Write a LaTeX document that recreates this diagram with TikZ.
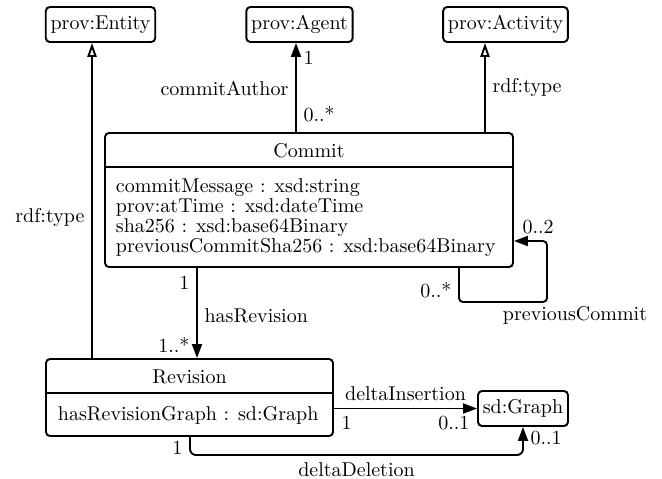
\documentclass[tikz,border=0pt]{standalone}
\usetikzlibrary{arrows.meta}
\begin{document}
\begin{tikzpicture}[x=0.5pt,y=-0.5pt,
  every path/.style={line width=0.95pt},
  simplecls/.style={draw, rounded corners=2pt, line width=0.95pt, inner xsep=2.4pt, inner ysep=0pt, minimum height=17.5pt},
  umlbox/.style={draw, rounded corners=2pt, line width=0.95pt, inner sep=0pt},
  assoc/.style={-{Triangle[length=7pt,width=5pt]}},
  gen/.style={-{Triangle[open,length=7pt,width=4.6pt]}},
  lbl/.style={inner sep=3.33pt}]
\useasboundingbox (0,0) rectangle (662,478);

% simple classes
\node[simplecls] (entity)   at (100.5,24.5) {prov:Entity};
\node[simplecls] (agent)    at (299.5,24.5) {prov:Agent};
\node[simplecls] (activity) at (505.5,24.5) {prov:Activity};
\node[simplecls] (graph)    at (523,408.5)  {sd:Graph};

% Commit class
\node[umlbox, minimum width=204pt, minimum height=67pt] (commit) at (309,200) {};
\coordinate (sepc) at (0,167);
\draw (commit.west |- sepc) -- (commit.east |- sepc);
\node[anchor=base] (commitname) at (309,157) {Commit};
\node[anchor=base west, inner sep=0pt] (cattr1) at (115,192) {commitMessage : xsd:string};
\node[anchor=base west, inner sep=0pt] (cattr2) at (115,212) {prov:atTime : xsd:dateTime};
\node[anchor=base west, inner sep=0pt] (cattr3) at (115,232) {sha256 : xsd:base64Binary};
\node[anchor=base west, inner sep=0pt] (cattr4) at (115,252) {previousCommitSha256 : xsd:base64Binary};

% Revision class
\node[umlbox, minimum width=143.5pt, minimum height=38.5pt] (revision) at (189.5,397.5) {};
\coordinate (sepr) at (0,393);
\draw (revision.west |- sepr) -- (revision.east |- sepr);
\node[anchor=base] (revisionname) at (189.5,383) {Revision};
\node[anchor=base west, inner sep=0pt] (rattr1) at (57,420) {hasRevisionGraph : sd:Graph};

% column coordinates
\coordinate (eX) at (92,0);
\coordinate (aX) at (296,0);
\coordinate (actX) at (485,0);
\coordinate (hrX) at (197,0);
\coordinate (pcX) at (459,0);
\coordinate (pcR) at (547,0);
\coordinate (pcB) at (0,302);
\coordinate (pcT) at (0,241);
\coordinate (ddX) at (190,0);
\coordinate (ddY) at (0,455);

% rdf:type -> prov:Entity
\draw[gen] (revision.north -| eX) -- node[lbl, left, pos=0.445] (lblent) {rdf:type} (entity.south -| eX);

% commitAuthor
\draw[assoc] (commit.north -| aX) --
  node[lbl, left, pos=0.495] (lblauth) {commitAuthor}
  node[lbl, right, pos=0.2] (mauth0) {0..*}
  node[lbl, right, pos=0.835] (mauth1) {1}
  (agent.south -| aX);

% rdf:type -> prov:Activity
\draw[gen] (commit.north -| actX) -- node[lbl, right, pos=0.495] (lblact) {rdf:type} (activity.south -| actX);

% hasRevision
\draw[assoc] (commit.south -| hrX) --
  node[lbl, left, pos=0.17] (mhr1) {1}
  node[lbl, right, pos=0.53] (lblhr) {hasRevision}
  node[lbl, left, pos=0.85] (mhr2) {1..*}
  (revision.north -| hrX);

% previousCommit self loop
\draw[assoc, rounded corners=2pt] (commit.south -| pcX) -- (pcX |- pcB) -- (pcR |- pcB) -- (pcR |- pcT) -- (commit.east |- pcT);
\node[lbl, anchor=east] (mpc0) at (459,290) {0..*};
\node[lbl, anchor=west] (mpc2) at (515,227) {0..2};
\node (lblpc) at (575,315) {previousCommit};

% deltaInsertion
\draw[assoc] (revision.east |- graph.west) --
  node[lbl, above] (lblins) {deltaInsertion}
  node[lbl, below right, pos=0] (mins1) {1}
  node[lbl, below left, pos=1] (mins2) {0..1}
  (graph.west);

% deltaDeletion
\draw[assoc, rounded corners=3pt] (revision.south -| ddX) --
  node[lbl, left, pos=0.6] (mdel1) {1}
  (ddX |- ddY) --
  node[lbl, below] (lbldel) {deltaDeletion}
  (graph.south |- ddY) --
  node[lbl, right, pos=0.6] (mdel2) {0..1}
  (graph.south);
\end{tikzpicture}
\end{document}
